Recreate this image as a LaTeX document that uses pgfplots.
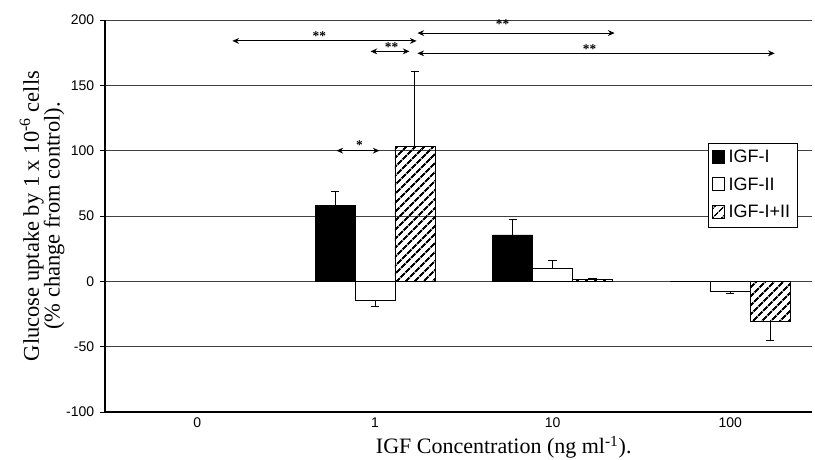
\documentclass[border=0pt]{standalone}
\usepackage{fontspec}
\setmainfont{Liberation Serif}
\newfontfamily\sansf{Liberation Sans}
\usepackage{pgfplots}
\usepackage{pgfplotstable}
\pgfplotsset{compat=1.18}
\usetikzlibrary{patterns.meta,arrows.meta}

\pgfplotstableread{
x y ep em
1 58 11 0
2 35.5 12 0
3 0 0 0
}\igfi
\pgfplotstableread{
x y ep em
1 -14.5 0 4.5
2 10 6 0
3 -7.4 0 1.6
}\igfii
\pgfplotstableread{
x y ep em
1 103.5 57 0
2 1.5 1 0
3 -30.4 0 14.6
}\igfiii

\begin{document}
\begin{tikzpicture}
\begin{axis}[
  at={(0,0)}, anchor=south west,
  scale only axis, width=424.2pt, height=235.2pt,
  xmin=-0.52, xmax=3.46, ymin=-100, ymax=200,
  xtick={0,1,2,3}, xticklabels={0,1,10,100},
  ytick={-100,-50,0,50,100,150,200},
  yticklabels={-100,-50,0,50,100,150,200},
  axis x line*=bottom, axis y line*=left,
  axis line style={black, line width=0.9pt},
  ymajorgrids, grid style={black!75, line width=0.5pt},
  x tick style={draw=none},
  y tick style={black, line width=0.5pt},
  tick align=outside, major tick length=3pt,
  tick label style={font=\sansf\fontsize{8.4}{9}\selectfont},
  xticklabel style={yshift=3pt},
  xlabel={IGF Concentration (ng ml\textsuperscript{-1}).},
  xlabel style={at={(axis description cs:0.564,-0.09)}, anchor=center, font=\fontsize{13.2}{14}\selectfont},
  ylabel={Glucose uptake by 1 x 10\textsuperscript{-6} cells\\(\% change from control).},
  ylabel style={at={(axis description cs:-0.089,0.5)}, anchor=center, align=center, font=\fontsize{13.5}{12.5}\selectfont},
  ybar=0pt, bar width=0.225,
  legend style={at={(0.979,0.686)}, anchor=north east, draw=black, fill=white,
    font=\sansf\fontsize{10.8}{11}\selectfont, cells={anchor=west}, inner sep=2pt, row sep=3.5pt},
  legend image code/.code={\draw[#1] (0cm,-0.12cm) rectangle (0.26cm,0.16cm);},
]
\addplot[fill=black, draw=black, line width=0.5pt,
  error bars/.cd, y dir=both, y explicit,
  error bar style={black, line width=0.6pt}, error mark options={black, rotate=90, mark size=2.5pt}]
  table[x=x, y=y, y error plus=ep, y error minus=em] {\igfi};
\addplot[fill=white, draw=black, line width=0.5pt,
  error bars/.cd, y dir=both, y explicit,
  error bar style={black, line width=0.6pt}, error mark options={black, rotate=90, mark size=2.5pt}]
  table[x=x, y=y, y error plus=ep, y error minus=em] {\igfii};
\addplot[pattern={Lines[angle=45,distance=4pt,line width=1.2pt]}, pattern color=black, draw=black, line width=0.5pt,
  error bars/.cd, y dir=both, y explicit,
  error bar style={black, line width=0.6pt}, error mark options={black, rotate=90, mark size=2.5pt}]
  table[x=x, y=y, y error plus=ep, y error minus=em] {\igfiii};
\legend{IGF-I,IGF-II,IGF-I+II}

% significance arrows
\draw[{Stealth[length=4pt,width=3.5pt]}-{Stealth[length=4pt,width=3.5pt]}, line width=0.6pt] (axis cs:0.197,184) -- (axis cs:1.234,184);
\draw[{Stealth[length=4pt,width=3.5pt]}-{Stealth[length=4pt,width=3.5pt]}, line width=0.6pt] (axis cs:0.975,176) -- (axis cs:1.194,176);
\draw[{Stealth[length=4pt,width=3.5pt]}-{Stealth[length=4pt,width=3.5pt]}, line width=0.6pt] (axis cs:1.239,190) -- (axis cs:2.349,190);
\draw[{Stealth[length=4pt,width=3.5pt]}-{Stealth[length=4pt,width=3.5pt]}, line width=0.6pt] (axis cs:1.239,174.5) -- (axis cs:3.25,174.5);
\draw[{Stealth[length=4pt,width=3.5pt]}-{Stealth[length=4pt,width=3.5pt]}, line width=0.6pt] (axis cs:0.783,100) -- (axis cs:1.025,100);
\node[font=\bfseries\footnotesize] at (axis cs:0.687,188) {**};
\node[font=\bfseries\footnotesize] at (axis cs:1.093,179) {**};
\node[font=\bfseries\footnotesize] at (axis cs:1.718,197) {**};
\node[font=\bfseries\footnotesize] at (axis cs:2.208,178) {**};
\node[font=\bfseries\footnotesize] at (axis cs:0.913,104) {*};
\end{axis}
\pgfresetboundingbox
\path (-63pt,-28.2pt) rectangle (426pt,247.2pt);
\end{tikzpicture}
\end{document}
